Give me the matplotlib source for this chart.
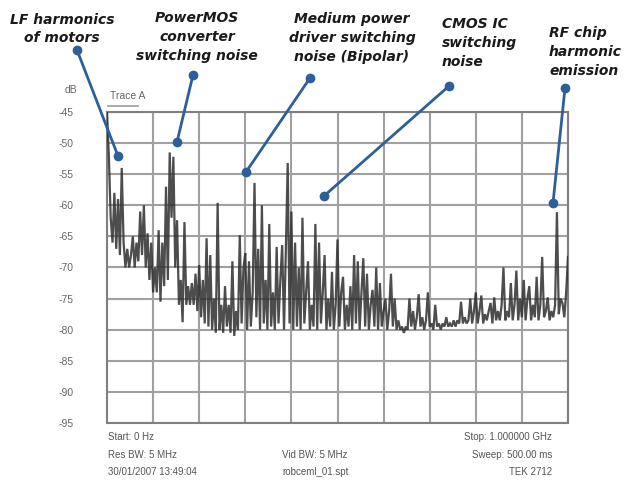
import matplotlib
matplotlib.use("Agg")
import matplotlib.pyplot as plt
from matplotlib.lines import Line2D
import numpy as np

# ---- data ----
freq_step_mhz = 4
trace_db = [
    -45, -52, -62, -66, -58, -67, -59, -68, -54, -66,
    -70, -67, -70, -68, -65, -70, -66, -69, -61, -68,
    -60, -70, -64.5, -72, -66, -74, -70, -74, -64, -75.5,
    -66, -73, -57, -72, -51.5, -62, -52.2, -70, -62.4, -76,
    -72, -78.8, -62.7, -76, -73, -76, -72.5, -76, -71, -77,
    -69.6, -78, -72, -79, -65.3, -79.5, -68, -80, -75, -80.5,
    -59.6, -80, -76, -80.5, -73, -79.5, -76, -80.5, -69, -81,
    -77, -80, -64.8, -79, -70, -67.7, -80, -69, -79.5, -74,
    -56.4, -78, -67, -80, -60, -79, -72, -80, -63, -79.5,
    -74, -80, -66.7, -79, -72, -66.4, -80, -67, -53.2, -79,
    -61, -80, -66, -79.5, -70, -80, -62, -79, -74, -69,
    -80, -76, -79.5, -63, -80, -66, -79, -74, -68, -80,
    -75, -79.5, -70.7, -80, -76, -65.5, -79.5, -74, -71.5, -80,
    -76, -79.5, -73, -80, -68, -79, -69, -80, -74, -68.5,
    -79.5, -71, -80, -76, -73.6, -79.5, -70, -80, -72.5, -79.5,
    -77, -75, -80, -77, -71, -79.5, -75, -80, -78.5, -80,
    -79.5, -80.5, -79.5, -80, -75, -79.5, -77, -80, -78, -74.3,
    -79.5, -78, -80, -78.5, -74, -79.5, -79, -80, -76, -79.5,
    -79, -80, -79, -79.5, -78, -79.5, -79, -79.5, -78.5, -79.5,
    -78.5, -79, -75.5, -79, -78, -79, -78.5, -75, -79, -77,
    -74, -79, -77, -74.5, -79, -77.5, -78.5, -77, -75.7, -79,
    -74.8, -78.5, -77, -78.5, -76, -70, -78.5, -77, -78, -72.5,
    -78.5, -76, -70.5, -78.5, -75, -78, -72, -78.5, -75, -73,
    -78.5, -76, -78, -71.5, -78.5, -76, -68.3, -78, -77, -74.8,
    -78.5, -77, -78, -76, -61.1, -77.5, -75, -75.7, -78, -74,
    -68.3,
]
y_ticks = [-45, -50, -55, -60, -65, -70, -75, -80, -85, -90, -95]
x_grid_mhz = [0, 100, 200, 300, 400, 500, 600, 700, 800, 900, 1000]

annotations = [
    "LF harmonics\nof motors",
    "PowerMOS\nconverter\nswitching noise",
    "Medium power\ndriver switching\nnoise (Bipolar)",
    "CMOS IC\nswitching\nnoise",
    "RF chip\nharmonic\nemission",
]

footer_left = ["Start: 0 Hz", "Res BW: 5 MHz", "30/01/2007 13:49:04"]
footer_mid = ["", "Vid BW: 5 MHz", "robceml_01.spt"]
footer_right = ["Stop: 1.000000 GHz", "Sweep: 500.00 ms", "TEK 2712"]

# ---- figure ----
W, H = 630, 487
fig = plt.figure(figsize=(W / 100, H / 100), dpi=100)
fig.patch.set_facecolor("white")

def fx(px):
    return px / W

def fy(py):
    return 1 - py / H

ax = fig.add_axes([fx(107), fy(423), fx(568) - fx(107), fy(112) - fy(423)])
freqs = np.arange(len(trace_db)) * freq_step_mhz
ax.plot(freqs, trace_db, color="#2e2e2e", lw=1.6, alpha=0.85, zorder=3,
        solid_joinstyle="miter")
ax.set_xlim(0, 1000)
ax.set_ylim(-95, -45)
ax.set_yticks(y_ticks)
ax.set_yticklabels([str(v) for v in y_ticks])
ax.set_xticks(x_grid_mhz)
ax.set_xticklabels([])
ax.tick_params(axis="both", length=0)
ax.tick_params(axis="y", pad=24, labelsize=7.5, labelcolor="#666666")
for lab in ax.get_yticklabels():
    lab.set_fontfamily("Liberation Sans")
ax.grid(True, color="#a0a0a0", lw=1.5, zorder=1)
for s in ax.spines.values():
    s.set_color("#808080")
    s.set_linewidth(1.5)

# header texts
fig.text(fx(65), fy(90), "dB", fontsize=7.5, color="#666666",
         family="Liberation Sans", va="center", ha="left")
fig.text(fx(110), fy(96), "Trace A", fontsize=7.5, color="#666666",
         family="Liberation Sans", va="center", ha="left")
fig.add_artist(Line2D([fx(108), fx(138)], [fy(106), fy(106)],
                      color="#999999", lw=1.2, transform=fig.transFigure))

# footer
rows_y = [437, 455, 472]
for i, yy in enumerate(rows_y):
    kw = dict(fontsize=7, color="#555555", family="Liberation Sans", va="center")
    fig.text(fx(108), fy(yy), footer_left[i], ha="left", **kw)
    if footer_mid[i]:
        fig.text(fx(282), fy(yy), footer_mid[i], ha="left", **kw)
    fig.text(fx(552), fy(yy), footer_right[i], ha="right", **kw)

# annotations
ann_pos = [
    (62, 29, "center"),
    (197, 37, "center"),
    (352, 38, "center"),
    (442, 43, "left"),
    (549, 52, "left"),
]
lines_px = [
    ((77, 50), (118, 156)),
    ((193, 75), (177, 142)),
    ((310, 78), (246, 172)),
    ((449, 86), (324, 196)),
    ((565, 88), (553, 203)),
]
blue = "#2d5f9a"
for txt, (x, y, ha) in zip(annotations, ann_pos):
    fig.text(fx(x), fy(y), txt, ha=ha, va="center", multialignment=ha,
             fontsize=10, fontweight="bold", fontstyle="italic",
             family="DejaVu Sans", color="#1a1a1a", linespacing=1.45)
for (p0, p1) in lines_px:
    fig.add_artist(Line2D([fx(p0[0]), fx(p1[0])], [fy(p0[1]), fy(p1[1])],
                          color=blue, lw=2, marker="o", markersize=6,
                          transform=fig.transFigure, zorder=10))

fig.savefig("out.png", dpi=100, facecolor="white")
